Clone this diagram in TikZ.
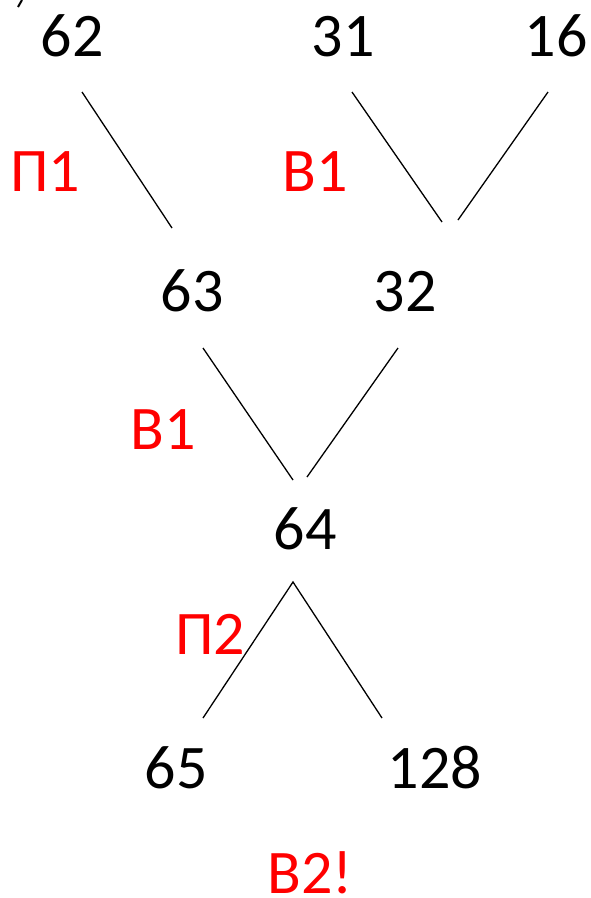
\documentclass[tikz,border=0pt]{standalone}
\usepackage{fontspec}
\setmainfont{Carlito}
\begin{document}
\begin{tikzpicture}[x=1pt,y=-1pt,
  num/.style={font=\fontsize{62}{62}\selectfont, inner sep=0pt, anchor=base},
  lbl/.style={font=\fontsize{62}{62}\selectfont, text=red, inner sep=0pt, anchor=base},
  edge/.style={line width=1.3pt}]
\useasboundingbox (0,0) rectangle (590,898);
% numbers
\node[num] (n62) at (72,56) {62};
\node[num] (n31) at (343,56) {31};
\node[num] (n16) at (556,56) {16};
\node[num] (n63) at (192,311) {63};
\node[num] (n32) at (405,311) {32};
\node[num] (n64) at (305,549) {64};
\node[num] (n65) at (176,788) {65};
\node[num] (n128) at (435,788) {128};
% move labels
\node[lbl] (p1) at (45,191) {П1};
\node[lbl] (v1a) at (315,191) {В1};
\node[lbl] (v1b) at (163,449) {В1};
\node[lbl] (p2) at (210,654) {П2};
\node[lbl] (v2) at (310,893) {В2!};
% edges
\coordinate (a1) at (82,92);  \coordinate (a2) at (172,228);
\coordinate (b1) at (352,92); \coordinate (b2) at (442,222);
\coordinate (c1) at (548,92); \coordinate (c2) at (458,220);
\coordinate (d1) at (203,348); \coordinate (d2) at (293,480);
\coordinate (e1) at (398,348); \coordinate (e2) at (307,477);
\coordinate (f0) at (293,582);
\coordinate (f1) at (203,718); \coordinate (f2) at (382,718);
\draw[edge] (a1) -- (a2);
\draw[edge] (b1) -- (b2);
\draw[edge] (c1) -- (c2);
\draw[edge] (d1) -- (d2);
\draw[edge] (e1) -- (e2);
\draw[edge] (f1) -- (f0) -- (f2);
% stray mark at the top edge
\coordinate (m1) at (22,0); \coordinate (m2) at (18,7);
\draw[line width=2pt] (m1) -- (m2);
\end{tikzpicture}
\end{document}
